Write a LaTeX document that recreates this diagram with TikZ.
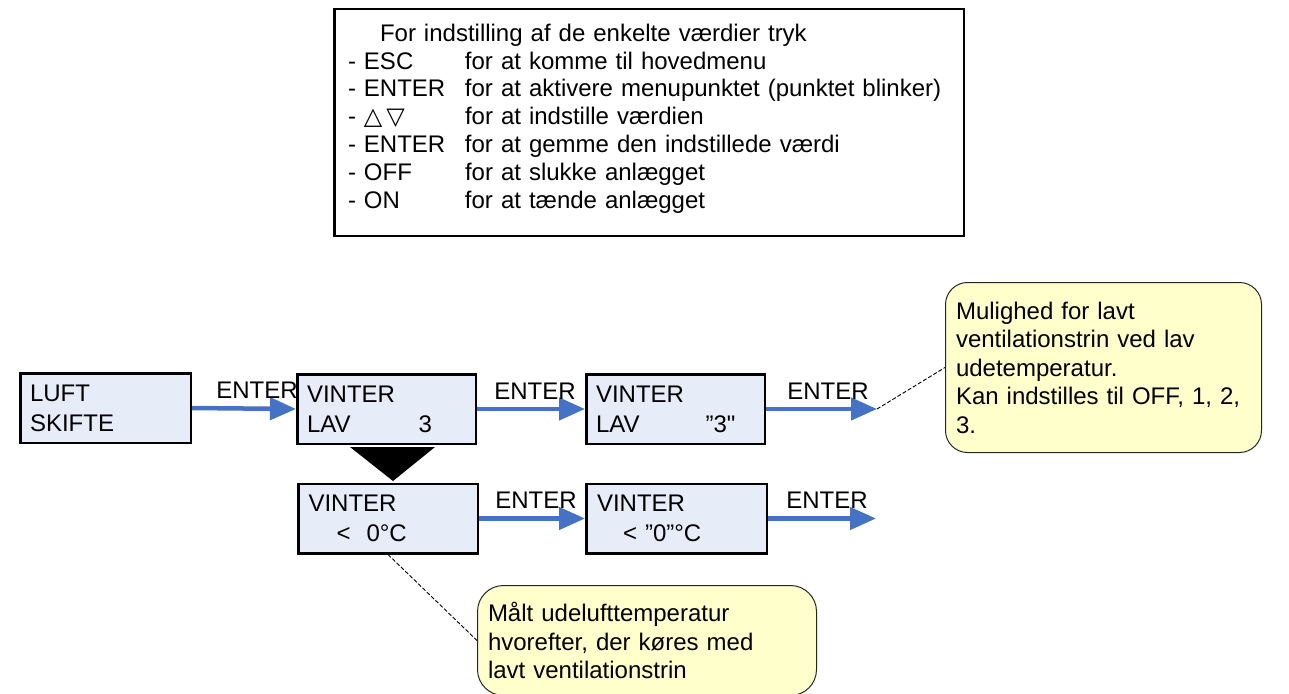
\documentclass[tikz,border=0pt]{standalone}
\usepackage{fontspec}
\setmainfont{Liberation Sans}
\newfontfamily\plainfont{Liberation Sans}
\newfontfamily\symfont{DejaVu Sans}
\usetikzlibrary{arrows.meta}
\definecolor{flowblue}{HTML}{4472C4}
\definecolor{lcdfill}{HTML}{E6ECF8}
\definecolor{notefill}{HTML}{FFFFCC}
\begin{document}
\begin{tikzpicture}[x=1pt,y=1pt]
\tikzstyle{every node}+=[inner sep=0pt, font=\fontsize{24}{30}\selectfont]
\tikzstyle{lcd}=[draw=black, line width=2.5pt, fill=lcdfill, minimum width=178.5pt, minimum height=69.5pt, text width=159pt, align=left]
\tikzstyle{info}=[draw=black, line width=2.5pt, minimum width=629.5pt, minimum height=226.5pt, text width=602pt, align=left, font=\fontsize{24}{27.8}\selectfont]
\tikzstyle{note}=[draw=black!85, line width=1pt, fill=notefill, rounded corners=22pt, align=left]
\tikzstyle{flow}=[-{Triangle[length=26pt,width=22pt]}, line width=4.5pt, flowblue]
\tikzstyle{enter}=[black, anchor=base west, yshift=10pt]
\tikzstyle{pointer}=[black, line width=0.9pt, dash pattern=on 4pt off 2pt]
\useasboundingbox (0,0) rectangle (1289,-693);
\node[info] (keys) at (649,-122.5) {\hspace*{32pt}For indstilling af de enkelte værdier tryk\\
\makebox[117pt][l]{- ESC}for at komme til hovedmenu\\
\makebox[117pt][l]{- ENTER}for at aktivere menupunktet (punktet blinker)\\
\makebox[117pt][l]{- {\symfont △\,▽}}for at indstille værdien\\
\makebox[117pt][l]{- ENTER}for at gemme den indstillede værdi\\
\makebox[117pt][l]{- OFF}for at slukke anlægget\\
\makebox[117pt][l]{- ON}for at tænde anlægget\rule[-13pt]{0pt}{13pt}};
\node[lcd, minimum width=170.5pt, text width=151pt] (luft) at (105.5,-408) {LUFT\\SKIFTE};
\node[lcd] (vlav) at (386.5,-409) {VINTER\\LAV\hspace*{68pt}3};
\node[lcd] (vlavset) at (675.5,-409) {VINTER\\LAV\hspace*{66pt}”3{\plainfont"}};
\node[lcd, minimum width=179.5pt] (vtemp) at (388,-518.5) {VINTER\\\hspace*{28pt}<\hspace*{16pt}0°C};
\node[lcd, minimum width=180.5pt] (vtempset) at (676.5,-518.5) {VINTER\\\hspace*{26pt}< ”0”°C};
\fill[black] (350,-447) -- (435,-447) -- (393,-481) -- cycle;
\coordinate (out1) at (877,-409);
\coordinate (out2) at (876,-518.5);
\draw[flow] (luft.east) -- (vlav.west) node[enter, pos=0, xshift=22pt] (e1) {ENTER};
\draw[flow] (vlav.east) -- (vlavset.west) node[enter, pos=0, xshift=15pt] (e2) {ENTER};
\draw[flow] (vlavset.east) -- (out1) node[enter, pos=0, xshift=19pt] (e3) {ENTER};
\draw[flow] (vtemp.east) -- (vtempset.west) node[enter, pos=0, xshift=14pt] (e4) {ENTER};
\draw[flow] (vtempset.east) -- (out2) node[enter, pos=0, xshift=16pt] (e5) {ENTER};
\node[note, minimum width=316pt, minimum height=170pt, text width=295pt, font=\fontsize{24}{28.5}\selectfont] (note1) at (1103.5,-367.5) {Mulighed for lavt\\ventilationstrin ved lav\\udetemperatur.\\Kan indstilles til OFF, 1, 2,\\3.};
\node[note, rounded corners=26pt, minimum width=339pt, minimum height=110pt, text width=318pt, font=\fontsize{24}{28.5}\selectfont] (note2) at (647,-640.5) {Målt udelufttemperatur\\hvorefter, der køres med\\lavt ventilationstrin};
\draw[pointer] (out1) -- (note1.west);
\draw[pointer] (vtemp.south) -- (note2.west);
\end{tikzpicture}
\end{document}
